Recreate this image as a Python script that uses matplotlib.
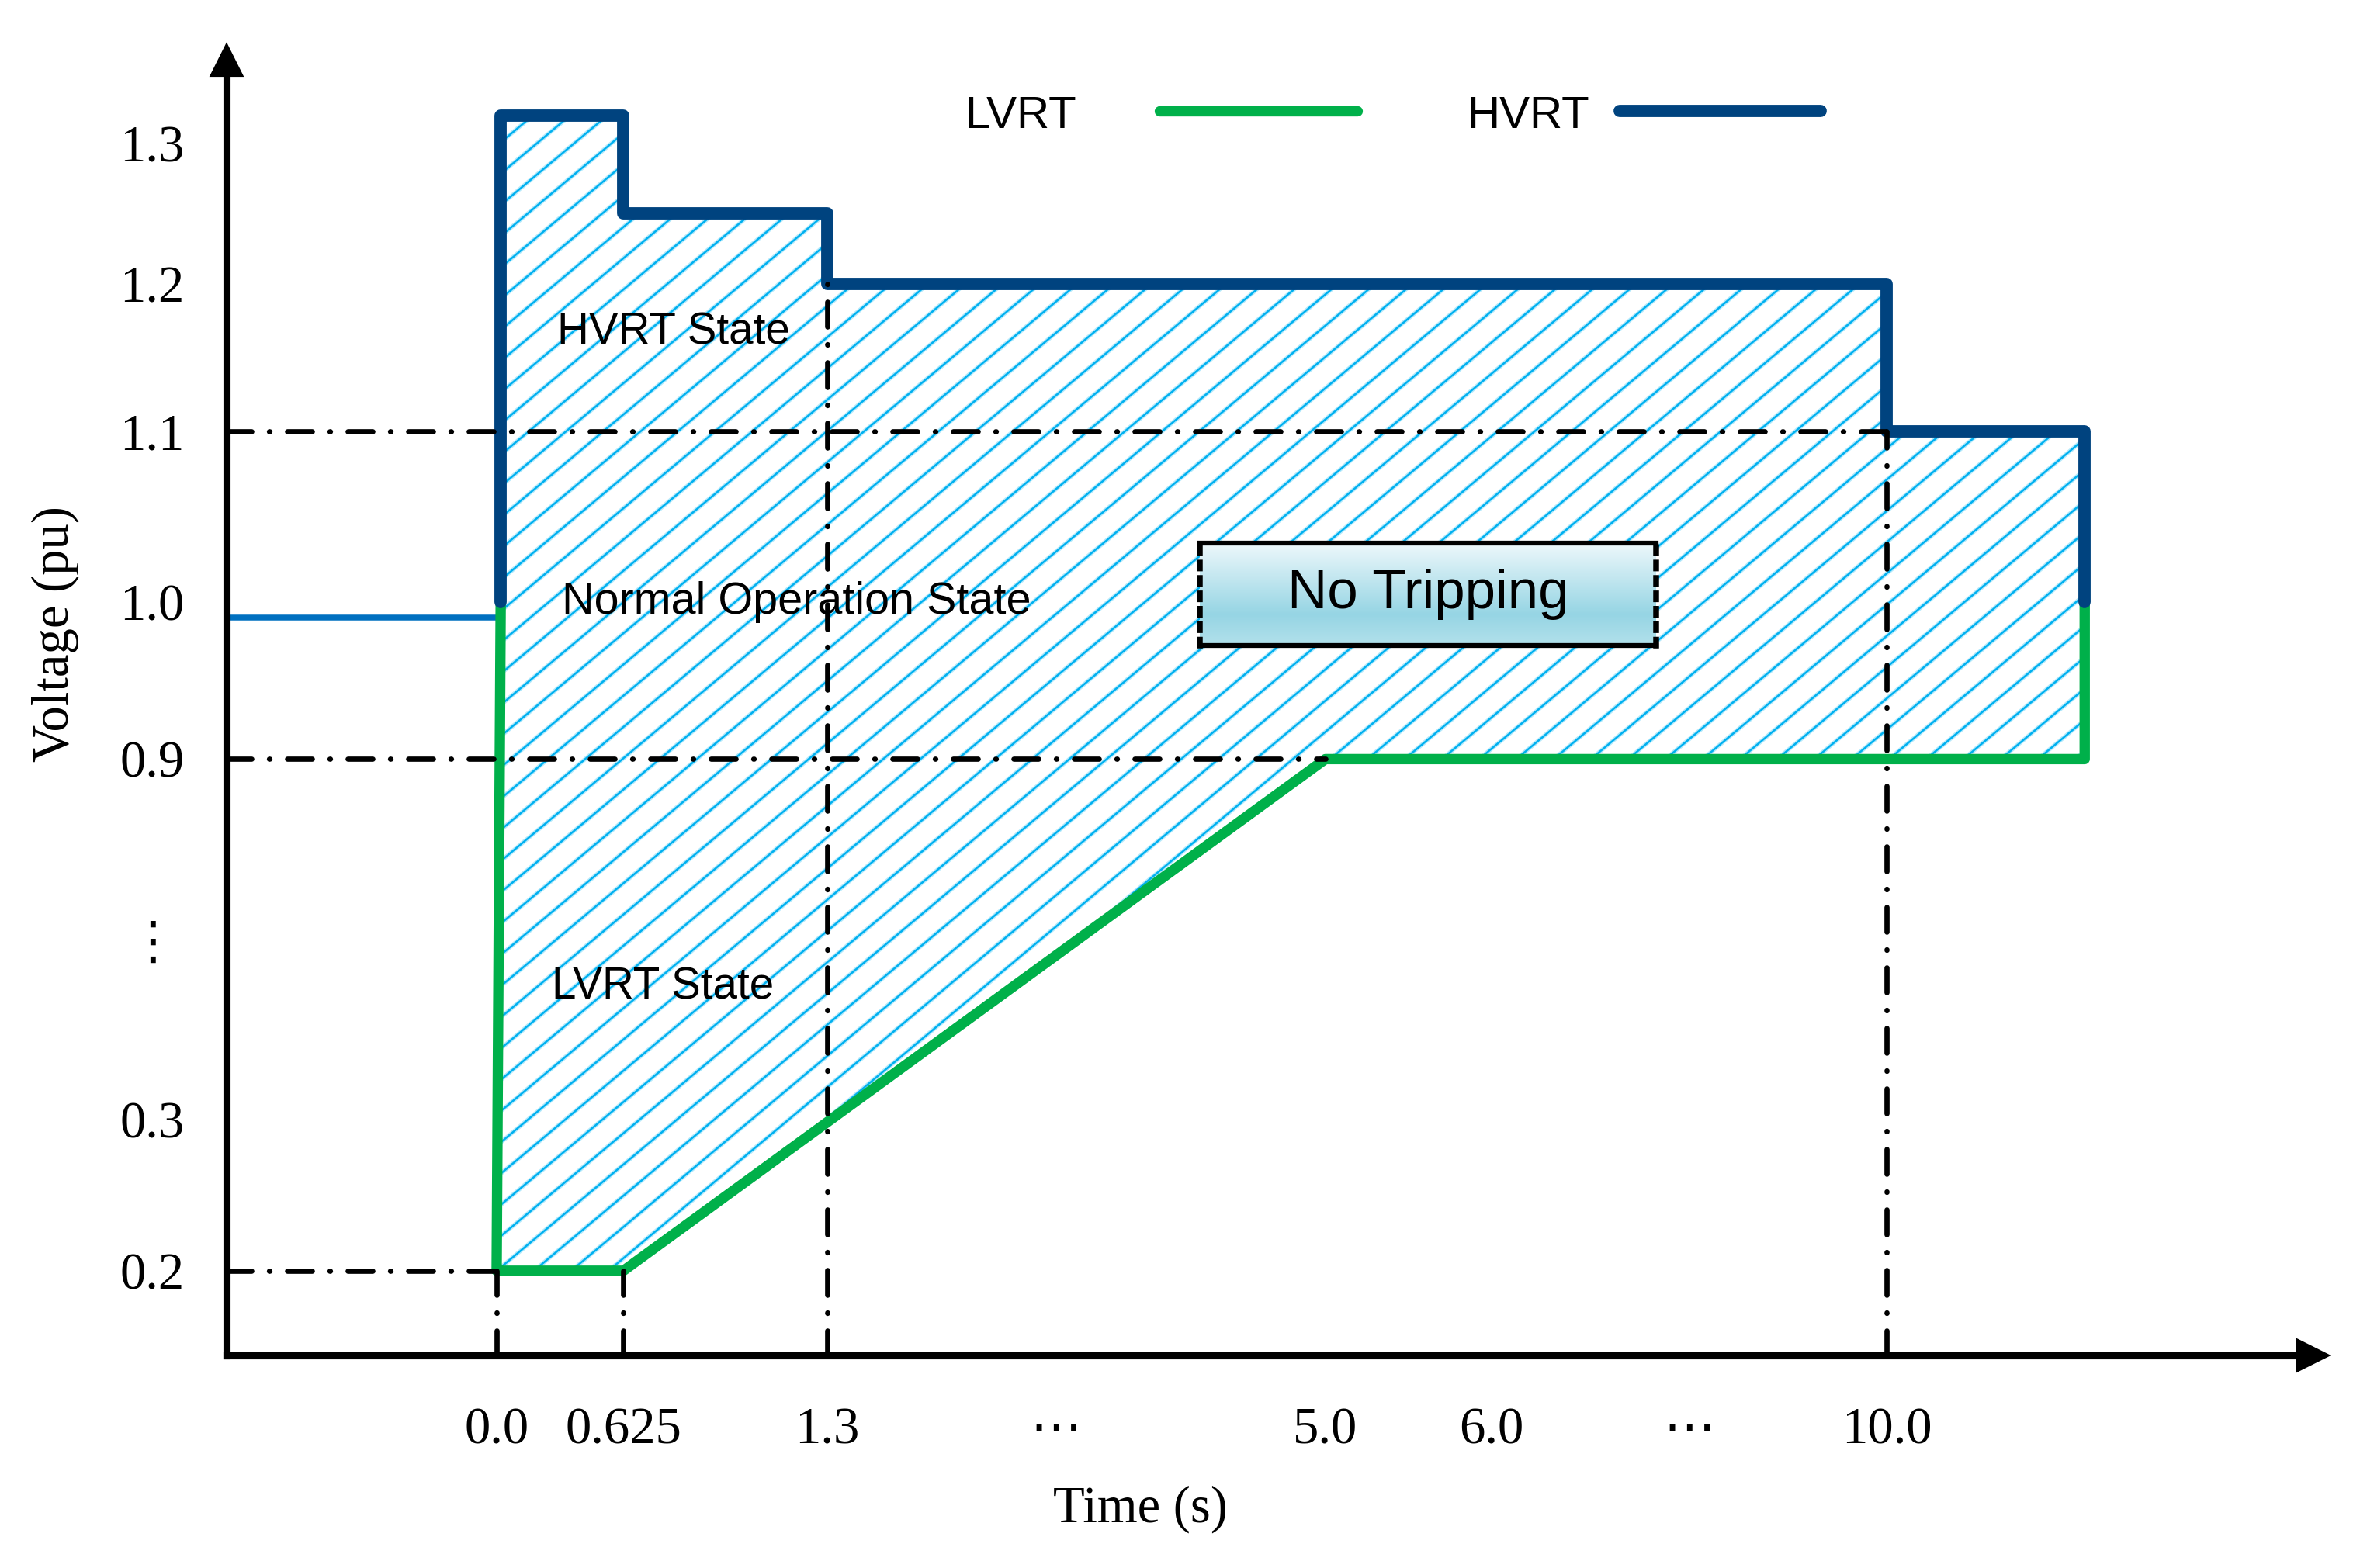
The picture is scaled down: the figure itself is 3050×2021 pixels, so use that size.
import numpy as np
import matplotlib
matplotlib.use('Agg')
import matplotlib.pyplot as plt
from matplotlib.collections import LineCollection
from matplotlib.transforms import IdentityTransform

plt.rcParams['font.family'] = ['Liberation Serif', 'DejaVu Sans']

# ---- curve data (time in s, voltage in pu) ----
lvrt_t = [0.02, 0.0, 0.625, 5.0, 12.0, 12.0]
lvrt_v = [1.0, 0.2, 0.2, 0.9, 0.9, 1.0]
hvrt_t = [0.02, 0.02, 0.625, 0.625, 1.3, 1.3, 10.0, 10.0, 12.0, 12.0]
hvrt_v = [1.0, 1.32, 1.32, 1.25, 1.25, 1.2, 1.2, 1.1, 1.1, 1.0]
prefault_v = 0.99

# dash-dot guide lines
h_guides = [(1.1, 10.0), (0.9, 5.0), (0.2, 0.0)]       # (level, end time)
v_guides = [(0.0, 0.2), (0.625, 0.2), (1.3, 1.2), (10.0, 1.1)]  # (time, top level)

x_ticks = [0.0, 0.625, 1.3, 3.0, 5.0, 6.0, 8.0, 10.0]
x_labels = ['0.0', '0.625', '1.3', '⋯', '5.0', '6.0', '⋯', '10.0']
y_ticks = [0.2, 0.3, 0.6, 0.9, 1.0, 1.1, 1.2, 1.3]
y_labels = ['0.2', '0.3', '⋮', '0.9', '1.0', '1.1', '1.2', '1.3']

# schematic (broken) axes: where labelled values sit along each axis
x_break_vals = [0.0, 0.625, 1.3, 5.0, 6.0, 10.0]
x_break_pos = [329, 413, 548, 878, 988, 1250]
y_break_vals = [0.2, 0.3, 0.9, 1.0, 1.1, 1.2, 1.3]
y_break_pos = [-842, -742, -503, -399, -286, -188, -95]

GREEN = '#00B04A'
NAVY = '#00437F'
BLUE = '#0070C0'
HATCH = '#00B0F0'


def piecewise(xp, fp):
    xp = np.asarray(xp, float)
    fp = np.asarray(fp, float)
    lo = (fp[1] - fp[0]) / (xp[1] - xp[0])
    hi = (fp[-1] - fp[-2]) / (xp[-1] - xp[-2])

    def f(x):
        x = np.asarray(x, float)
        y = np.interp(x, xp, fp)
        y = np.where(x < xp[0], fp[0] + (x - xp[0]) * lo, y)
        y = np.where(x > xp[-1], fp[-1] + (x - xp[-1]) * hi, y)
        return y
    return f


fwd_x, inv_x = piecewise(x_break_vals, x_break_pos), piecewise(x_break_pos, x_break_vals)
fwd_y, inv_y = piecewise(y_break_vals, y_break_pos), piecewise(y_break_pos, y_break_vals)

fig = plt.figure(figsize=(3050 / 300, 2021 / 300), dpi=300)
ax = fig.add_axes([150 / 1568, 141 / 1039, 1382 / 1568, 858 / 1039])
ax.set_xscale('function', functions=(fwd_x, inv_x))
ax.set_yscale('function', functions=(fwd_y, inv_y))
xmin, xmax = float(inv_x(150)), float(inv_x(1532))
ymin, ymax = float(inv_y(-898)), float(inv_y(-40))
ax.set_xlim(xmin, xmax)
ax.set_ylim(ymin, ymax)

# ride-through region, hatched with 40 degree lines
region = ax.fill(hvrt_t + lvrt_t[::-1], hvrt_v + lvrt_v[::-1], facecolor='white',
                 edgecolor='none', linewidth=0, zorder=1)[0]
W, H = fig.bbox.width, fig.bbox.height
run = H / np.tan(np.deg2rad(40))
segs = [[(s, 0), (s + run, H)] for s in np.arange(-run, W + 48, 48)]
for col, lw in [('#B3E9FB', 1.3), (HATCH, 0.6)]:
    lc = LineCollection(segs, colors=col, linewidths=lw, transform=IdentityTransform(),
                        zorder=1.5)
    ax.add_collection(lc, autolim=False)
    lc.set_clip_path(region)

ax.plot([xmin, hvrt_t[0]], [prefault_v, prefault_v], color=BLUE, lw=1.8, zorder=2)
ax.plot(lvrt_t, lvrt_v, color=GREEN, lw=3.2, solid_capstyle='round',
        solid_joinstyle='round', zorder=3)
ax.plot(hvrt_t, hvrt_v, color=NAVY, lw=3.8, solid_capstyle='round',
        solid_joinstyle='round', zorder=3.5)

dashdot = dict(color='black', lw=1.6, linestyle=(0, (4.8, 3.4, 0.1, 3.4)),
               dash_capstyle='round', zorder=4)
for lvl, t_end in h_guides:
    ax.plot([xmin, t_end], [lvl, lvl], **dashdot)
for t, top in v_guides:
    ax.plot([t, t], [ymin, top], **dashdot)

# region labels
sans = 'Liberation Sans'
ax.text(0.30, 1.167, 'HVRT State', family=sans, fontsize=13.6, va='center', zorder=5)
ax.text(0.32, 1.0, 'Normal Operation State', family=sans, fontsize=13.8, va='center', zorder=5)
ax.text(0.27, 0.521, 'LVRT State', family=sans, fontsize=13.6, va='center', zorder=5)

# "No Tripping" box with gradient fill
ins = ax.inset_axes([0.4667, 0.5478, 0.2185, 0.0793])
stops = [0.0, 0.7, 1.0]
cols = np.array([[0xEE, 0xF8, 0xFB], [0x96, 0xD5, 0xE4], [0xB2, 0xE1, 0xEB]]) / 255
rows = np.linspace(0, 1, 100)
grad = np.stack([np.interp(rows, stops, cols[:, c]) for c in range(3)], axis=-1)
ins.imshow(grad[:, None, :], aspect='auto', extent=(0, 1, 0, 1))
ins.set_xticks([])
ins.set_yticks([])
for side in ['top', 'bottom']:
    ins.spines[side].set_linewidth(1.5)
for side in ['left', 'right']:
    ins.spines[side].set_linewidth(1.8)
    ins.spines[side].set_linestyle(':')
ins.text(0.5, 0.5, 'No Tripping', family=sans, fontsize=17, ha='center', va='center',
         transform=ins.transAxes)

# legend keys: label first, then line
key_font = dict(family=sans, fontsize=14, va='center', transform=ax.transAxes)
ax.text(0.3538, 0.9569, 'LVRT', **key_font)
ax.text(0.5948, 0.9569, 'HVRT', **key_font)
ax.plot([0.4472, 0.5420], [0.961, 0.961], color=GREEN, lw=3.2, solid_capstyle='round',
        transform=ax.transAxes, clip_on=False)
ax.plot([0.6679, 0.7641], [0.961, 0.961], color=NAVY, lw=3.8, solid_capstyle='round',
        transform=ax.transAxes, clip_on=False)

# axes with arrow heads
for side in ['top', 'right']:
    ax.spines[side].set_visible(False)
for side in ['left', 'bottom']:
    ax.spines[side].set_linewidth(2.2)
ax.plot(1, 0, '>k', ms=9, transform=ax.transAxes, clip_on=False)
ax.plot(0, 1, '^k', ms=9, transform=ax.transAxes, clip_on=False)

ax.set_xticks(x_ticks)
ax.set_xticklabels(x_labels)
ax.set_yticks(y_ticks)
ax.set_yticklabels(y_labels, ha='center')
ax.minorticks_off()
ax.tick_params(axis='x', length=0, labelsize=16, pad=16)
ax.tick_params(axis='y', length=0, labelsize=16, pad=23)

ax.set_xlabel('Time (s)', fontsize=16, va='center')
ax.xaxis.set_label_coords(0.438, -0.119)
ax.set_ylabel('Voltage (pu)', fontsize=16, va='center')
ax.yaxis.set_label_coords(-0.082, 0.557)

fig.savefig('out.png', dpi=300, facecolor='white')
